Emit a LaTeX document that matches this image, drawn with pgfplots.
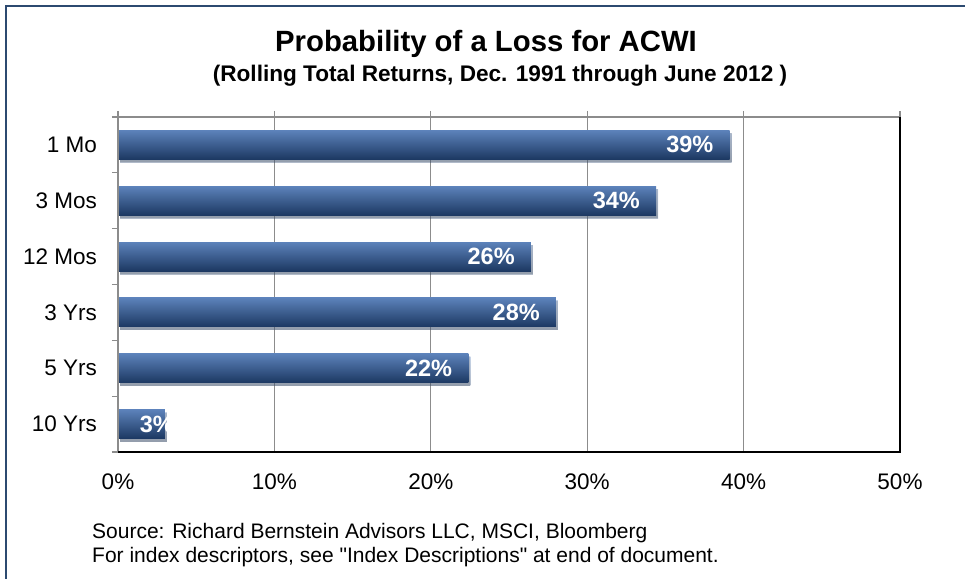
\documentclass[border=0pt]{standalone}
\usepackage{pgfplots}
\pgfplotsset{compat=1.18}
\usepackage{fontspec}
\setmainfont{Liberation Sans}
\newfontfamily\qfont{Liberation Sans}
\usetikzlibrary{shadows}
\definecolor{frameblue}{RGB}{44,74,112}
\definecolor{bartop}{RGB}{92,130,186}
\definecolor{barmid}{RGB}{44,84,143}
\definecolor{barbot}{RGB}{28,56,98}
\definecolor{gridgray}{RGB}{140,140,140}
\pgfplotsset{mybar/.style={draw=none, top color=bartop, middle color=barmid, bottom color=barbot,
  drop shadow={shadow xshift=2bp, shadow yshift=-3bp, opacity=0.35}}}
\begin{document}
\begin{tikzpicture}
\path[use as bounding box] (0,0) rectangle (965bp,579bp);
\draw[line width=2.2bp, frameblue] (6bp,-10bp) -- (6bp,573bp) -- (980bp,573bp);
\node[anchor=base, inner sep=0pt, font=\bfseries\fontsize{29.3bp}{32bp}\selectfont] at (486bp,527bp) {Probability of a Loss for ACWI};
\node[anchor=base, inner sep=0pt, font=\bfseries\fontsize{22.6bp}{26bp}\selectfont] at (500bp,497bp) {(Rolling Total Returns, Dec. 1991 through June 2012 )};
\begin{axis}[
  name=ax,
  at={(118bp,127bp)}, anchor=south west,
  width=782bp, height=335bp, scale only axis,
  xmin=0, xmax=50, ymin=-0.5, ymax=5.5,
  xtick={0,10,20,30,40,50},
  xticklabels={0\%,10\%,20\%,30\%,40\%,50\%},
  ytick={0,1,2,3,4,5},
  yticklabels={10 Yrs,5 Yrs,3 Yrs,12 Mos,3 Mos,1 Mo},
  minor ytick={-0.5,0.5,1.5,2.5,3.5,4.5,5.5},
  xtick pos=upper, ytick pos=left,
  xticklabel pos=lower,
  tick align=outside,
  major tick length=6bp,
  minor tick length=6bp,
  x tick style={gridgray, line width=1.2bp},
  minor y tick style={gridgray, line width=1.2bp},
  major y tick style={draw=none},
  xmajorgrids,
  grid style={gridgray, line width=1.2bp},
  axis line style={draw=none},
  xticklabel style={font=\fontsize{22.5bp}{26bp}\selectfont, inner sep=0pt, anchor=north, yshift=-16bp},
  yticklabel style={font=\fontsize{22.5bp}{26bp}\selectfont, inner sep=0pt, anchor=east, xshift=-15bp},
  xbar, bar width=29bp, bar shift=0pt,
  point meta=x,
  /pgf/number format/assume math mode=true,
  nodes near coords={\pgfmathprintnumber[fixed,precision=0,assume math mode=true]{\pgfplotspointmeta}\%},
  every node near coord/.append style={font=\bfseries\fontsize{23.5bp}{26bp}\selectfont, text=white, inner sep=0pt, anchor=east, xshift=-16bp},
  clip=false,
]
\addplot[mybar] coordinates {(39.1,5)};
\addplot[mybar] coordinates {(34.4,4)};
\addplot[mybar] coordinates {(26.4,3)};
\addplot[mybar] coordinates {(28.0,2)};
\addplot[mybar] coordinates {(22.4,1)};
\addplot[mybar, every node near coord/.append style={xshift=25bp}] coordinates {(3.0,0)};
\end{axis}
\draw[gridgray, line width=1.5bp] (ax.south west) -- (ax.north west) -- (ax.north east);
\draw[black, line width=1.5bp] (ax.south west) -- (ax.south east) -- (ax.north east);
\node[anchor=base west, inner sep=0pt, font=\qfont\fontsize{21bp}{24bp}\selectfont] at (92bp,40bp) {Source: Richard Bernstein Advisors LLC, MSCI, Bloomberg};
\node[anchor=base west, inner sep=0pt, font=\qfont\fontsize{21bp}{24bp}\selectfont] at (92bp,17bp) {For index descriptors, see "Index Descriptions" at end of document.};
\end{tikzpicture}
\end{document}
